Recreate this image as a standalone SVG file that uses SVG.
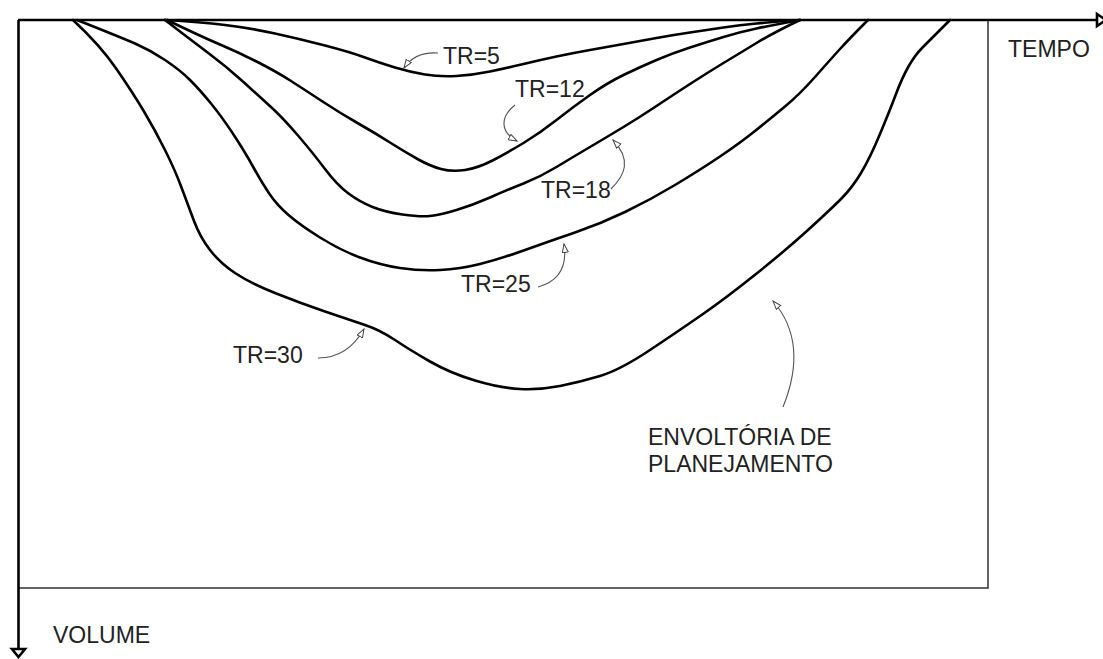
<svg xmlns="http://www.w3.org/2000/svg" width="1103" height="659" viewBox="0 0 1103 659">
<style>
.ax{fill:none;stroke:#000;stroke-width:2.6}
.box{fill:none;stroke:#333;stroke-width:1.5}
.cv{fill:none;stroke:#000;stroke-width:2.6;stroke-linejoin:round;stroke-linecap:round}
.ld{fill:none;stroke:#555;stroke-width:1.1}
.t{font-family:"Liberation Sans",Arial,sans-serif;font-size:23px;fill:#222}
</style>
<defs>
<marker id="ah" markerWidth="12" markerHeight="10" refX="9" refY="3.5" orient="auto" markerUnits="userSpaceOnUse">
<path d="M0.5,0.5 L9,3.5 L0.5,6.5 z" fill="#fff" stroke="#444" stroke-width="1"/>
</marker>
</defs>
<rect width="1103" height="659" fill="#fff"/>
<g id="frame">
<path class="box" d="M18,588 H988 V20"/>
</g>
<g id="axes">
<path class="ax" d="M18,20 H1097"/>
<path class="ax" d="M1097,14 L1106,20 L1097,26 z" fill="#fff"/>
<path class="ax" d="M18.5,20 V649"/>
<path class="ax" d="M12,649 L25,649 L18.5,657 z" style="fill:#fff"/>
</g>
<g id="curves">
<path id="c-tr5" class="cv" d="M165,20 Q200,22 225,25 Q250,28 275,33.5 Q300,39 325,45.5 Q350,52 365,57.5 Q380,63 395,67.5 Q410,72 425,74.5 Q440,77 456.5,76 Q473,75 490,71.5 Q507,68 523.5,64 Q540,60 556.5,56.5 Q573,53 590,50 Q607,47 623.5,44 Q640,41 656.5,38 Q673,35 690,32.5 Q707,30 723.5,27.5 Q740,25 756.5,23.5 Q773,22 800,20"/>
<path id="c-tr12" class="cv" d="M167,20 Q200,36 220,44.5 Q240,53 258.5,62.5 Q277,72 291,81 Q305,90 322.5,101.5 Q340,113 357.5,123 Q375,133 390,142.5 Q405,152 417.5,159 Q430,166 441,169 Q452,172 465,170 Q478,168 492.5,160.5 Q507,153 523.5,143 Q540,133 556.5,120 Q573,107 590,95 Q607,83 623.5,75 Q640,67 656.5,60 Q673,53 690,47.5 Q707,42 723.5,37 Q740,32 756.5,28.5 Q773,25 800,20"/>
<path id="c-tr18" class="cv" d="M165,20 Q187,37 207,52 Q227,67 243.5,82 Q260,97 271.5,107.5 Q283,118 298,135.5 Q313,153 325,169 Q337,185 348.5,193.5 Q360,202 372.5,207 Q385,212 402.5,214.5 Q420,217 430,216 Q440,215 456.5,210 Q473,205 490,197.5 Q507,190 523.5,183.5 Q540,177 556.5,167 Q573,157 590,147 Q607,137 623.5,127 Q640,117 656.5,106 Q673,95 690,84 Q707,73 723.5,63 Q740,53 756.5,43 Q773,33 800,20"/>
<path id="c-tr25" class="cv" d="M77,20 Q120,37 135,43.5 Q150,50 165,60 Q180,70 190,80 Q200,90 211,103.5 Q222,117 233.5,134.5 Q245,152 253.5,167.5 Q262,183 269.5,194 Q277,205 288.5,215 Q300,225 320,237.5 Q340,250 360,257.5 Q380,265 400,268 Q420,271 440,270 Q460,269 480,264 Q500,259 525,250 Q550,241 575,232.5 Q600,224 625,212 Q650,200 675,185 Q700,170 720,156.5 Q740,143 755,131 Q770,119 785,106.5 Q800,94 815,77 Q830,60 840,49 Q850,38 868,20"/>
<path id="c-tr30" class="cv" d="M73,20 Q100,45 116.5,69 Q133,93 144,111.5 Q155,130 165,150 Q175,170 181.5,187.5 Q188,205 194,221 Q200,237 210,250 Q220,263 235,273 Q250,283 275,293 Q300,303 325,311.5 Q350,320 365,325 Q380,330 395,340 Q410,350 430,361.5 Q450,373 475,380.5 Q500,388 520,389 Q540,390 560,386 Q580,382 600,376 Q620,370 650,350 Q680,330 703,314 Q726,298 756,274 Q786,250 808,230 Q830,210 841,199 Q852,188 861,173 Q870,158 880,134 Q890,110 896,94 Q902,78 908.5,66.5 Q915,55 922.5,47.5 Q930,40 950,20"/>
</g>
<g id="connectors">
<path class="ld" d="M438,53 C425,52 412,56 404,68" marker-end="url(#ah)"/>
<path class="ld" d="M515,105 C500,117 500,132 517,141" marker-end="url(#ah)"/>
<path class="ld" d="M611,189 C625,175 632,160 613,140" marker-end="url(#ah)"/>
<path class="ld" d="M538,287 C556,282 568,270 564,244" marker-end="url(#ah)"/>
<path class="ld" d="M318,358 C340,358 355,345 364,329" marker-end="url(#ah)"/>
<path class="ld" d="M783,407 C800,365 798,330 773,301" marker-end="url(#ah)"/>
</g>
<g id="label-tr5"><text class="t" x="443" y="64">TR=5</text></g>
<g id="label-tr12"><text class="t" x="515" y="97">TR=12</text></g>
<g id="label-tr18"><text class="t" x="541" y="198">TR=18</text></g>
<g id="label-tr25"><text class="t" x="461" y="292">TR=25</text></g>
<g id="label-tr30"><text class="t" x="233" y="363">TR=30</text></g>
<g id="label-env"><text class="t" x="648" y="445">ENVOLTÓRIA DE</text><text class="t" x="648" y="472">PLANEJAMENTO</text></g>
<g id="label-tempo"><text class="t" x="1008" y="57">TEMPO</text></g>
<g id="label-volume"><text class="t" x="53" y="643">VOLUME</text></g>
</svg>
